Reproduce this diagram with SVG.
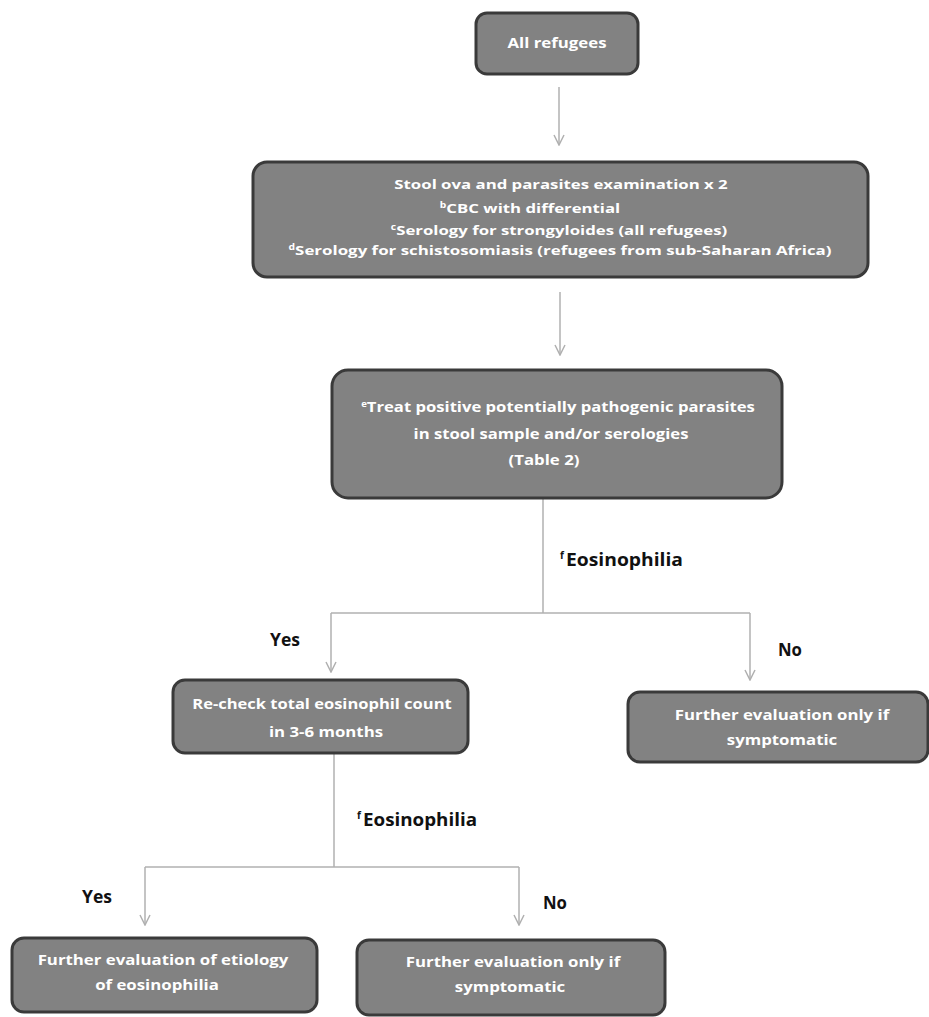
<svg xmlns="http://www.w3.org/2000/svg" width="929" height="1017" viewBox="0 0 929 1017">
<style>
.box{fill:#828282;stroke:#3a3a3a;stroke-width:3}
.bt{font-family:"Open Sans","Liberation Sans",sans-serif;font-weight:bold;font-size:14px;fill:#ffffff;text-anchor:middle}
.bs{font-size:13px}
.sup{font-size:8px}
.lbl{font-family:"Open Sans","Liberation Sans",sans-serif;font-weight:bold;font-size:17px;fill:#111111}
.lsup{font-family:"Open Sans","Liberation Sans",sans-serif;font-weight:bold;font-size:10px;fill:#111111}
.con{fill:none;stroke:#b0b0b0;stroke-width:1.5}
</style>
<defs>
<marker id="arr" viewBox="0 0 12 12" refX="11" refY="6" markerWidth="12" markerHeight="12" markerUnits="userSpaceOnUse" orient="auto">
<path d="M1,1 L11,6 L1,11" fill="none" stroke="#b0b0b0" stroke-width="1.5"/>
</marker>
</defs>
<rect width="929" height="1017" fill="#ffffff"/>
<g id="connectors">
<path class="con" d="M559,87 V145" marker-end="url(#arr)"/>
<path class="con" d="M560,292 V355" marker-end="url(#arr)"/>
<path class="con" d="M543,498 V613"/>
<path class="con" d="M331,613 H750"/>
<path class="con" d="M331,613 V672" marker-end="url(#arr)"/>
<path class="con" d="M750,613 V680" marker-end="url(#arr)"/>
<path class="con" d="M334,753 V867"/>
<path class="con" d="M145,867 H519"/>
<path class="con" d="M145,867 V925" marker-end="url(#arr)"/>
<path class="con" d="M519,867 V925" marker-end="url(#arr)"/>
</g>
<g id="labels">
<text class="lsup" x="560" y="559">f</text>
<text class="lbl" x="566" y="566" textLength="117" lengthAdjust="spacingAndGlyphs">Eosinophilia</text>
<text class="lbl" x="270" y="646" textLength="30" lengthAdjust="spacingAndGlyphs">Yes</text>
<text class="lbl" x="778" y="656" textLength="24" lengthAdjust="spacingAndGlyphs">No</text>
<text class="lsup" x="357" y="819">f</text>
<text class="lbl" x="363" y="826" textLength="114" lengthAdjust="spacingAndGlyphs">Eosinophilia</text>
<text class="lbl" x="82" y="903" textLength="30" lengthAdjust="spacingAndGlyphs">Yes</text>
<text class="lbl" x="543" y="909" textLength="24" lengthAdjust="spacingAndGlyphs">No</text>
</g>
<g id="n1">
<rect class="box" x="476" y="13" width="162" height="61" rx="11"/>
<text class="bt" transform="translate(557,48) scale(1.2,1)">All refugees</text>
</g>
<g id="n2">
<rect class="box" x="253" y="162" width="615" height="115" rx="14"/>
<text class="bt bs" transform="translate(561,189) scale(1.29,1)">Stool ova and parasites examination x 2</text>
<text class="bt bs" transform="translate(530,213) scale(1.29,1)"><tspan class="sup" dy="-5">b</tspan><tspan dy="5">CBC with differential</tspan></text>
<text class="bt bs" transform="translate(559,235) scale(1.29,1)"><tspan class="sup" dy="-5">c</tspan><tspan dy="5">Serology for strongyloides  (all refugees)</tspan></text>
<text class="bt bs" transform="translate(560,255) scale(1.3,1)"><tspan class="sup" dy="-5">d</tspan><tspan dy="5">Serology for schistosomiasis  (refugees from sub-Saharan Africa)</tspan></text>
</g>
<g id="n3">
<rect class="box" x="332" y="370" width="450" height="128" rx="16"/>
<text class="bt" transform="translate(558,412) scale(1.19,1)"><tspan class="sup" dy="-5">e</tspan><tspan dy="5">Treat positive potentially pathogenic parasites</tspan></text>
<text class="bt" transform="translate(551,439) scale(1.19,1)">in stool sample and/or serologies</text>
<text class="bt" transform="translate(544,465) scale(1.2,1)">(Table 2)</text>
</g>
<g id="n4">
<rect class="box" x="173" y="680" width="295" height="73" rx="12"/>
<text class="bt" transform="translate(322,709) scale(1.18,1)">Re-check total eosinophil count</text>
<text class="bt" transform="translate(326,737) scale(1.2,1)">in 3-6 months</text>
</g>
<g id="n5">
<rect class="box" x="628" y="692" width="300" height="70" rx="12"/>
<text class="bt" transform="translate(782,720) scale(1.2,1)">Further evaluation only if</text>
<text class="bt" transform="translate(782,745) scale(1.2,1)">symptomatic</text>
</g>
<g id="n6">
<rect class="box" x="12" y="938" width="305" height="74" rx="12"/>
<text class="bt" transform="translate(163,965) scale(1.2,1)">Further evaluation of etiology</text>
<text class="bt" transform="translate(157,990) scale(1.2,1)">of eosinophilia</text>
</g>
<g id="n7">
<rect class="box" x="357" y="940" width="308" height="75" rx="12"/>
<text class="bt" transform="translate(513,967) scale(1.2,1)">Further evaluation only if</text>
<text class="bt" transform="translate(510,992) scale(1.2,1)">symptomatic</text>
</g>
</svg>
